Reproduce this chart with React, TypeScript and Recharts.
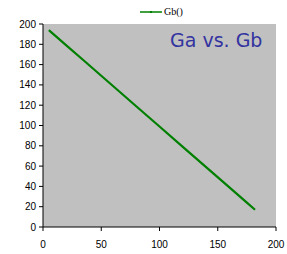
import React from "react"
import { LineChart, Line, XAxis, YAxis, CartesianGrid } from "recharts"

// readings taken along the line
const gaValues = [5, 20, 35, 50, 65, 80, 100, 120, 140, 160, 175, 182]
const gbValues = [194, 179, 164, 149, 134, 119, 99, 79, 59, 39, 24, 17]
const xTicks = [0, 50, 100, 150, 200]
const yTicks = [0, 20, 40, 60, 80, 100, 120, 140, 160, 180, 200]
const seriesName = "Gb()"
const title = "Ga vs. Gb"

const data = gaValues.map((ga, i) => ({ ga, gb: gbValues[i] }))

const tickStyle = { fontFamily: "Liberation Sans, Arial, sans-serif", fontSize: 10, fill: "#000" }

export default function App() {
  return (
    <div style={{ position: "absolute", left: 0, top: 0, width: 287, height: 254, background: "#fff" }}>
      <LineChart width={287} height={254} data={data} margin={{ top: 24, right: 11, bottom: 0, left: 5 }}>
        <CartesianGrid fill="#c0c0c0" stroke="none" horizontal={false} vertical={false} />
        <XAxis
          dataKey="ga"
          type="number"
          domain={[0, 200]}
          ticks={xTicks}
          height={27}
          tick={tickStyle}
          tickSize={4}
          tickMargin={10}
          stroke="#000"
        />
        <YAxis
          type="number"
          domain={[0, 200]}
          ticks={yTicks}
          width={38}
          tick={tickStyle}
          tickSize={4}
          tickMargin={3}
          stroke="#000"
          interval={0}
        />
        <Line
          dataKey="gb"
          stroke="#008000"
          strokeWidth={2.2}
          dot={false}
          isAnimationActive={false}
          name={seriesName}
        />
      </LineChart>
      {/* legend and title sit on top of the chart */}
      <div
        style={{
          position: "absolute",
          top: 6,
          left: 140,
          zIndex: 2,
          display: "flex",
          alignItems: "center",
          fontFamily: "Liberation Serif, serif",
          fontSize: 10,
        }}
      >
        <svg width={22} height={6} style={{ marginRight: 2 }}>
          <line x1={0} y1={3} x2={22} y2={3} stroke="#008000" strokeWidth={1.5} />
          <rect x={10} y={2} width={2} height={2} fill="#008000" />
        </svg>
        {seriesName}
      </div>
      <div
        style={{
          position: "absolute",
          top: 29,
          left: 170,
          zIndex: 2,
          color: "#3333a0",
          fontFamily: "Comic Sans MS, DejaVu Sans, sans-serif",
          fontSize: 19,
        }}
      >
        {title}
      </div>
    </div>
  )
}
